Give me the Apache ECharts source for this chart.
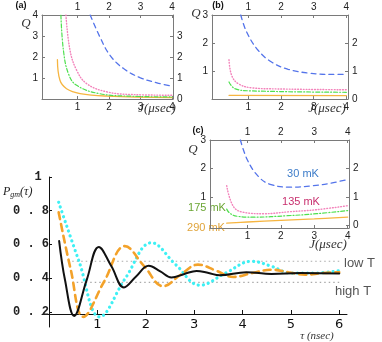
<!DOCTYPE html>
<html>
<head>
<meta charset="utf-8">
<script src="https://cdn.jsdelivr.net/npm/echarts@6/dist/echarts.min.js"></script>
<style>
html, body { margin: 0; padding: 0; background: #fff; }
#chart { width: 382px; height: 342px; }
</style>
</head>
<body>
<div id="chart"></div>
<script>
// inset (a)
const aBlueJ = [1.40, 1.71, 2.03, 2.46, 2.98, 3.52, 4.0]
const aBlueQ = [4.0, 2.95, 2.08, 1.45, 1.02, 0.77, 0.61]
const aPinkJ = [0.63, 0.76, 0.97, 1.29, 1.93, 2.77, 4.0]
const aPinkQ = [4.0, 2.32, 1.37, 0.73, 0.34, 0.21, 0.18]
const aGreenJ = [0.47, 0.55, 0.71, 0.97, 1.71, 2.77, 4.0]
const aGreenQ = [4.0, 2.32, 1.2, 0.65, 0.25, 0.13, 0.1]
const aOrangeJ = [0.36, 0.44, 0.65, 1.08, 1.93, 4.0]
const aOrangeQ = [1.87, 0.89, 0.49, 0.26, 0.14, 0.07]

// inset (b)
const bBlueJ = [0.77, 0.95, 1.30, 1.71, 2.22, 2.83, 3.55, 4.0]
const bBlueQ = [3.0, 2.39, 1.74, 1.32, 1.06, 0.93, 0.88, 0.88]
const bPinkJ = [0.41, 0.49, 0.69, 1.1, 1.9, 4.0]
const bPinkQ = [1.40, 0.85, 0.55, 0.40, 0.36, 0.33]
const bGreenJ = [0.41, 0.59, 1.1, 4.0]
const bGreenQ = [0.61, 0.37, 0.29, 0.24]
const bOrangeJ = [0.41, 4.0]
const bOrangeQ = [0.13, 0.12]

// inset (c)
const cBlueJ = [0.79, 1.0, 1.33, 1.68, 2.3, 2.96, 3.45, 4.0]
const cBlueQ = [3.0, 2.3, 1.72, 1.45, 1.35, 1.40, 1.48, 1.62]
const cPinkJ = [0.38, 0.58, 0.88, 1.48, 2.27, 3.07, 4.0]
const cPinkQ = [1.40, 0.67, 0.47, 0.42, 0.49, 0.56, 0.70]
const cGreenJ = [0.38, 0.48, 0.7, 1.2, 2.2, 3.07, 4.0]
const cGreenQ = [0.58, 0.43, 0.33, 0.30, 0.35, 0.42, 0.53]
const cOrangeJ = [0.38, 1.0, 2.0, 3.0, 4.0]
const cOrangeQ = [0.09, 0.13, 0.19, 0.24, 0.30]

// main panel P_gm(tau)
const blackT = [0.21, 0.33, 0.52, 0.78, 1.03, 1.29, 1.55, 1.8, 2.06, 2.3, 2.53, 2.8, 3.05, 3.3, 3.53, 4.08, 4.6, 5.2, 6.0]
const blackP = [0.62, 0.39, 0.176, 0.39, 0.585, 0.47, 0.345, 0.41, 0.473, 0.44, 0.404, 0.425, 0.443, 0.43, 0.417, 0.435, 0.425, 0.43, 0.427]
const orangeT = [0.2, 0.45, 0.71, 1.14, 1.57, 1.97, 2.36, 2.72, 3.08, 3.45, 3.81, 4.2, 4.6, 4.95, 5.3, 5.65, 6.0]
const orangeP = [0.79, 0.45, 0.17, 0.38, 0.59, 0.47, 0.352, 0.42, 0.48, 0.445, 0.407, 0.43, 0.45, 0.435, 0.42, 0.43, 0.435]
const cyanT = [0.2, 0.62, 1.05, 1.58, 2.12, 2.62, 3.12, 3.65, 4.19, 4.6, 5.0, 5.5, 6.05]
const cyanP = [0.85, 0.5, 0.17, 0.40, 0.61, 0.48, 0.358, 0.43, 0.50, 0.47, 0.43, 0.43, 0.447]
const refLevels = [0.5, 0.375]
const refSpan = [0.48, 6.0]

const jTicks = [1, 2, 3, 4]
const tTicks = [1, 2, 3, 4, 5, 6]
const pTicks = [0.2, 0.4, 0.6, 0.8, 1]

const pts = (xs, ys) => xs.map((x, i) => [x, ys[i]])

const BLUE = '#5474ea', PINK = '#f383bb', GREEN = '#4fe04f', ORANGE = '#f6b540'
const frameColor = '#7a7a7a'
const numFont = 'Liberation Sans'

function insetX(grid, min, max, pos) {
  return {
    type: 'value', gridIndex: grid, position: pos, min: min, max: max,
    axisLine: { show: true, onZero: false, lineStyle: { color: frameColor, width: 1 } },
    axisTick: { show: true, inside: true, length: 3, customValues: jTicks, lineStyle: { color: frameColor } },
    axisLabel: { show: true, customValues: jTicks, margin: 3, fontSize: 10, color: '#222', fontFamily: numFont },
    splitLine: { show: false }
  }
}
function insetY(grid, min, max, pos, labels) {
  return {
    type: 'value', gridIndex: grid, position: pos, min: min, max: max,
    axisLine: { show: true, onZero: false, lineStyle: { color: frameColor, width: 1 } },
    axisTick: { show: true, inside: true, length: 3, customValues: labels, lineStyle: { color: frameColor } },
    axisLabel: { show: true, customValues: labels, margin: 4, fontSize: 10, color: '#222', fontFamily: numFont },
    splitLine: { show: false }
  }
}
function curve(xi, data, color, type, width) {
  return {
    type: 'line', xAxisIndex: xi, yAxisIndex: xi, data: data,
    showSymbol: false, smooth: 0.4, silent: true, animation: false,
    lineStyle: { color: color, type: type, width: width, cap: 'round' }
  }
}

const chart = echarts.init(document.getElementById('chart'), null, { renderer: 'canvas' })

const refSeries = refLevels.map(v => ({
  type: 'line', xAxisIndex: 6, yAxisIndex: 6, data: refSpan.map(t => [t, v]),
  showSymbol: false, silent: true, animation: false,
  lineStyle: { color: '#aaa', type: [1.5, 3], width: 1.2 }
}))

const PINK_DOT = [0.8, 2]

chart.setOption({
  animation: false,
  grid: [
    { left: 42, top: 15, width: 131, height: 84, containLabel: false, outerBoundsMode: 'none' },
    { left: 212, top: 15, width: 136, height: 84, containLabel: false, outerBoundsMode: 'none' },
    { left: 210, top: 140, width: 139, height: 88, containLabel: false, outerBoundsMode: 'none' },
    { left: 49, top: 177, width: 298, height: 150, containLabel: false, outerBoundsMode: 'none' },
    { left: 42, top: 300, width: 305, height: 14, containLabel: false, outerBoundsMode: 'none' }
  ],
  xAxis: [
    insetX(0, -0.13, 4.03, 'bottom'),
    insetX(0, -0.13, 4.03, 'top'),
    insetX(1, -0.11, 4.05, 'bottom'),
    insetX(1, -0.11, 4.05, 'top'),
    insetX(2, -0.12, 4.04, 'bottom'),
    insetX(2, -0.12, 4.04, 'top'),
    { type: 'value', gridIndex: 3, min: 0, max: 6.16, show: false },
    {
      type: 'value', gridIndex: 4, position: 'bottom', min: -0.145, max: 6.16,
      axisLine: { show: true, onZero: false, lineStyle: { color: '#111', width: 1 } },
      axisTick: { show: true, inside: true, length: 4, customValues: tTicks, lineStyle: { color: '#111' } },
      axisLabel: { show: true, customValues: tTicks, margin: 4, fontSize: 13, color: '#111', fontFamily: 'DejaVu Sans' },
      splitLine: { show: false }
    }
  ],
  yAxis: [
    insetY(0, 0, 4, 'left', [1, 2, 3, 4]),
    insetY(0, 0, 4, 'right', [0, 1, 2, 3]),
    insetY(1, 0, 3, 'left', [1, 2, 3]),
    insetY(1, 0, 3, 'right', [0, 1, 2]),
    insetY(2, -0.08, 3, 'left', [1, 2, 3]),
    insetY(2, -0.08, 3, 'right', [0, 1, 2]),
    {
      type: 'value', gridIndex: 3, position: 'left', min: 0.11, max: 1.0,
      axisLine: { show: true, onZero: false, lineStyle: { color: '#111', width: 1 } },
      axisTick: { show: true, inside: true, length: 3, customValues: pTicks, lineStyle: { color: '#111' } },
      axisLabel: {
        show: true, customValues: pTicks, margin: 0, fontSize: 12, fontWeight: 'bold',
        color: '#222', fontFamily: 'Liberation Mono',
        formatter: v => v === 1 ? '1 ' : v.toFixed(1).split('').join(' ')
      },
      splitLine: { show: false }
    },
    { type: 'value', gridIndex: 4, min: 0, max: 1, show: false }
  ],
  series: [
    curve(0, pts(aOrangeJ, aOrangeQ), ORANGE, 'solid', 1.3),
    curve(0, pts(aGreenJ, aGreenQ), GREEN, [4, 2, 1, 2], 1.2),
    curve(0, pts(aPinkJ, aPinkQ), PINK, PINK_DOT, 1.4),
    curve(0, pts(aBlueJ, aBlueQ), BLUE, [5, 4], 1.3),
    curve(2, pts(bOrangeJ, bOrangeQ), ORANGE, 'solid', 1.3),
    curve(2, pts(bGreenJ, bGreenQ), GREEN, [4, 2, 1, 2], 1.2),
    curve(2, pts(bPinkJ, bPinkQ), PINK, PINK_DOT, 1.4),
    curve(2, pts(bBlueJ, bBlueQ), BLUE, [5, 4], 1.3),
    curve(4, pts(cOrangeJ, cOrangeQ), ORANGE, 'solid', 1.3),
    curve(4, pts(cGreenJ, cGreenQ), GREEN, [4, 2, 1, 2], 1.2),
    curve(4, pts(cPinkJ, cPinkQ), PINK, PINK_DOT, 1.4),
    curve(4, pts(cBlueJ, cBlueQ), BLUE, [5, 4], 1.3),
    ...refSeries,
    curve(6, pts(cyanT, cyanP), '#3ef0f4', [0.1, 5], 3.2),
    curve(6, pts(orangeT, orangeP), '#f3a22a', [7, 5], 2.6),
    curve(6, pts(blackT, blackP), '#111', 'solid', 2)
  ],
  graphic: [
    { type: 'text', x: 21, y: 6, style: { text: '(a)', font: 'bold 9px Liberation Sans', fill: '#111', align: 'center', verticalAlign: 'middle' } },
    { type: 'text', x: 218, y: 6, style: { text: '(b)', font: 'bold 9px Liberation Sans', fill: '#111', align: 'center', verticalAlign: 'middle' } },
    { type: 'text', x: 198, y: 131, style: { text: '(c)', font: 'bold 9px Liberation Sans', fill: '#111', align: 'center', verticalAlign: 'middle' } },
    { type: 'text', x: 26, y: 24, style: { text: 'Q', font: 'italic 13px Liberation Serif', fill: '#333', align: 'center', verticalAlign: 'middle' } },
    { type: 'text', x: 196, y: 14, style: { text: 'Q', font: 'italic 13px Liberation Serif', fill: '#333', align: 'center', verticalAlign: 'middle' } },
    { type: 'text', x: 193, y: 150, style: { text: 'Q', font: 'italic 13px Liberation Serif', fill: '#333', align: 'center', verticalAlign: 'middle' } },
    { type: 'text', x: 157, y: 109, style: { text: 'J(μsec)', font: 'italic 13px Liberation Serif', fill: '#333', align: 'center', verticalAlign: 'middle' } },
    { type: 'text', x: 327, y: 109, style: { text: 'J(μsec)', font: 'italic 13px Liberation Serif', fill: '#333', align: 'center', verticalAlign: 'middle' } },
    { type: 'text', x: 328, y: 245, style: { text: 'J(μsec)', font: 'italic 13px Liberation Serif', fill: '#333', align: 'center', verticalAlign: 'middle' } },
    { type: 'text', x: 303, y: 174, style: { text: '30 mK', font: '11px Liberation Sans', fill: '#3d7cc9', align: 'center', verticalAlign: 'middle' } },
    { type: 'text', x: 301, y: 202, style: { text: '135 mK', font: '11px Liberation Sans', fill: '#c8306e', align: 'center', verticalAlign: 'middle' } },
    { type: 'text', x: 207, y: 208, style: { text: '175 mK', font: '11px Liberation Sans', fill: '#6aa532', align: 'center', verticalAlign: 'middle' } },
    { type: 'text', x: 206, y: 228, style: { text: '290 mK', font: '11px Liberation Sans', fill: '#e0a43a', align: 'center', verticalAlign: 'middle' } },
    {
      type: 'text', x: 3, y: 192,
      style: {
        text: '{i|P}{s|gm}{i|(τ)}', verticalAlign: 'middle',
        rich: {
          i: { font: 'italic 12px Liberation Serif', fill: '#222' },
          s: { font: 'italic 8px Liberation Serif', fill: '#222', padding: [5, 0, 0, 0] }
        }
      }
    },
    { type: 'text', x: 317, y: 336, style: { text: 'τ (nsec)', font: 'italic 11px Liberation Serif', fill: '#333', align: 'center', verticalAlign: 'middle' } },
    { type: 'text', x: 344, y: 263, style: { text: 'low T', font: '13px Liberation Sans', fill: '#555', align: 'left', verticalAlign: 'middle' } },
    { type: 'text', x: 335, y: 291, style: { text: 'high T', font: '13px Liberation Sans', fill: '#555', align: 'left', verticalAlign: 'middle' } }
  ]
})
</script>
</body>
</html>
